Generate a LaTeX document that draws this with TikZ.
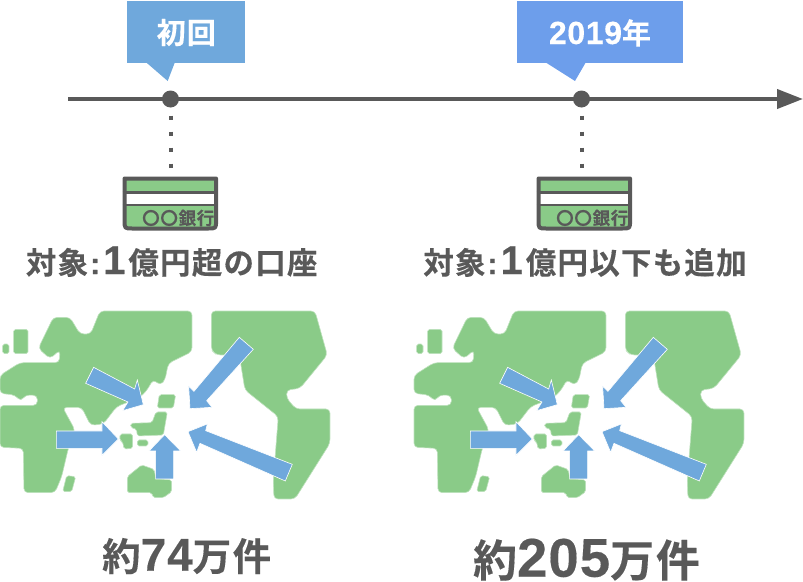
\documentclass[tikz,border=0pt]{standalone}
\usepackage{fontspec}
\setmainfont[LetterSpace=4,FakeBold=0.3]{Noto Sans CJK JP Bold}
\newfontfamily\latinbold[LetterSpace=2,FakeBold=0.3]{Liberation Sans Bold}
\usetikzlibrary{arrows.meta}
\definecolor{calloutA}{HTML}{6FA8DC}
\definecolor{calloutB}{HTML}{6D9EEB}
\definecolor{mapgreen}{HTML}{8ACB88}
\definecolor{ink}{HTML}{595959}
\newcommand{\lat}[2]{{\latinbold\fontsize{#1}{#1}\selectfont #2}}
\tikzset{
  tickdot/.style={circle,fill=ink,inner sep=0pt,minimum size=17pt},
  calloutlabel/.style={text=white,font=\fontsize{29}{29}\selectfont,inner sep=0pt,anchor=base},
  caption/.style={text=ink,font=\fontsize{30.5}{30.5}\selectfont,inner sep=0pt,anchor=base},
  bigcount/.style={text=ink,inner sep=0pt,anchor=base},
  land/.style={fill=mapgreen,draw=mapgreen!55!white,line width=0.6pt,rounded corners=4pt},
  islet/.style={land,rounded corners=1.8pt},
  inflow/.style={fill=calloutA,draw=white,line width=0.6pt,line join=miter},
  bank/.style={text=ink,inner sep=0pt,font=\fontsize{17.5}{17.5}\selectfont},
  leader/.style={ink,line width=4pt,dash pattern=on 4pt off 12pt,shorten <=7.8pt,shorten >=6.7pt},
}
\newcommand{\worldmap}[1]{%
\begin{scope}[shift={(#1,300)},x=0.3333pt,y=-0.3333pt]
  \path[land] (300,33)--(576,33)--(576,155)--(505,190)--(495,240)--(480,256)--(460,238)--(440,272)--(420,292)--(350,320)--(310,372)--(272,376)--(245,322)--(188,322)--(225,390)--(205,445)--(185,530)--(165,578)--(72,578)--(70,445)--(0,442)--(0,316)--(112,316)--(112,286)--(76,285)--(62,304)--(45,285)--(0,280)--(0,226)--(60,188)--(178,188)--(180,150)--(150,176)--(115,145)--(160,52)--(210,52)--(240,102)--(272,102)--cycle;
  \path[land] (634,33)--(945,33)--(982,165)--(900,265)--(860,270)--(860,295)--(888,327)--(990,327)--(990,430)--(885,597)--(822,597)--(820,540)--(835,350)--(735,270)--(718,165)--(650,165)--(634,150)--cycle;
  \path[islet] (41,88)--(84,88)--(84,161)--(41,161)--cycle;
  \path[islet] (8,132)--(27,132)--(27,161)--(8,161)--cycle;
  \path[islet] (200,527)--(227,530)--(215,575)--(188,575)--cycle;
  \path[islet] (478,284)--(527,284)--(520,324)--(472,324)--cycle;
  \path[islet] (468,336)--(502,336)--(490,405)--(412,408)--(410,388)--(392,382)--(392,370)--(456,368)--cycle;
  \path[islet] (360,402)--(398,402)--(398,445)--(372,447)--(368,425)--(360,422)--cycle;
  \path[islet] (412,420)--(444,420)--(444,438)--(412,438)--cycle;
  \path[islet] (382,530)--(425,495)--(462,508)--(468,535)--(515,540)--(515,575)--(490,593)--(460,593)--(455,578)--(382,578)--cycle;
  \path[inflow] (281,202)--(404,267)--(412,240)--(430,314)--(368,332)--(384,306)--(257,250)--cycle;
  \path[inflow] (169,393)--(306,393)--(306,365)--(355,417)--(306,466)--(306,445)--(169,445)--cycle;
  \path[inflow] (467,537)--(467,453)--(447,453)--(494,404)--(542,453)--(521,453)--(521,537)--cycle;
  \path[inflow] (877,493)--(856,543)--(600,430)--(590,457)--(564,395)--(622,372)--(617,392)--cycle;
  \path[inflow] (718,112)--(760,148)--(620,302)--(636,322)--(570,326)--(566,258)--(582,274)--cycle;
\end{scope}}
\newcommand{\cardart}[1]{%
\begin{scope}[shift={(#1.north west)}]
  \fill[mapgreen] (2,2)--(93.5,2)--(93.5,44) .. controls (93.5,52) and (93.5,52) .. (85.5,52)--(10,52) .. controls (2,52) and (2,52) .. (2,44)--cycle;
  \fill[white] (3,16) rectangle (92.5,28);
  \draw[ink,line width=2.4pt] (0,16)--(95.5,16) (0,28.5)--(95.5,28.5);
  \draw[ink,line width=4pt,line join=round] (2,2)--(93.5,2)--(93.5,44) .. controls (93.5,52) and (93.5,52) .. (85.5,52)--(10,52) .. controls (2,52) and (2,52) .. (2,44)--cycle;
\end{scope}}
\begin{document}
\begin{tikzpicture}[x=1pt,y=-1pt]
\useasboundingbox (0,0) rectangle (803,581);
\worldmap{0}
\worldmap{414}
% timeline
\coordinate (tstart) at (68,99);
\coordinate (tend) at (803,99);
\draw[ink,line width=4pt,-{Triangle[length=26pt,width=19pt]}] (tstart) -- (tend);
\node[tickdot] (d1) at (170.5,99) {};
\node[tickdot] (d2) at (581.5,99) {};
% callouts
\fill[calloutA] (126.5,1) rectangle (245,63);
\fill[calloutA] (145.7,62)--(175,62)--(167.7,81)--cycle;
\node[calloutlabel] (c1) at (186.3,43.5) {初回};
\fill[calloutB] (517,1) rectangle (683,63);
\fill[calloutB] (545,62)--(586,62)--(575,81)--cycle;
\node[calloutlabel] (c2) at (600,44) {\lat{32}{2019}年};
% cards
\node[inner sep=0pt,minimum width=95.5pt,minimum height=54pt] (k1) at (170.5,203.7) {};
\node[inner sep=0pt,minimum width=95.5pt,minimum height=54pt] (k2) at (584.5,203.7) {};
\cardart{k1}
\cardart{k2}
\node[bank,anchor=east] at (214.5,218) {〇〇銀行};
\node[bank,anchor=east] at (628.5,218) {〇〇銀行};
\draw[leader] (d1) -- (k1);
\draw[leader] (d2) -- (d2 |- k2.north);
% captions
\node[caption] (t1) at (171.7,274) {対象\kern2pt\lat{30}{:}\kern3pt\lat{40}{1}\kern3pt 億円超の口座};
\node[caption] (t2) at (585,274) {対象\kern2pt\lat{30}{:}\kern3pt\lat{40}{1}\kern3pt 億円以下も追加};
\node[bigcount,font=\fontsize{38.5}{38.5}\selectfont] (n1) at (186.7,570.7) {約\lat{46}{74}万件};
\node[bigcount,font=\fontsize{44}{44}\selectfont] (n2) at (586.5,576.7) {約\lat{54.5}{205}万件};
\end{tikzpicture}
\end{document}
